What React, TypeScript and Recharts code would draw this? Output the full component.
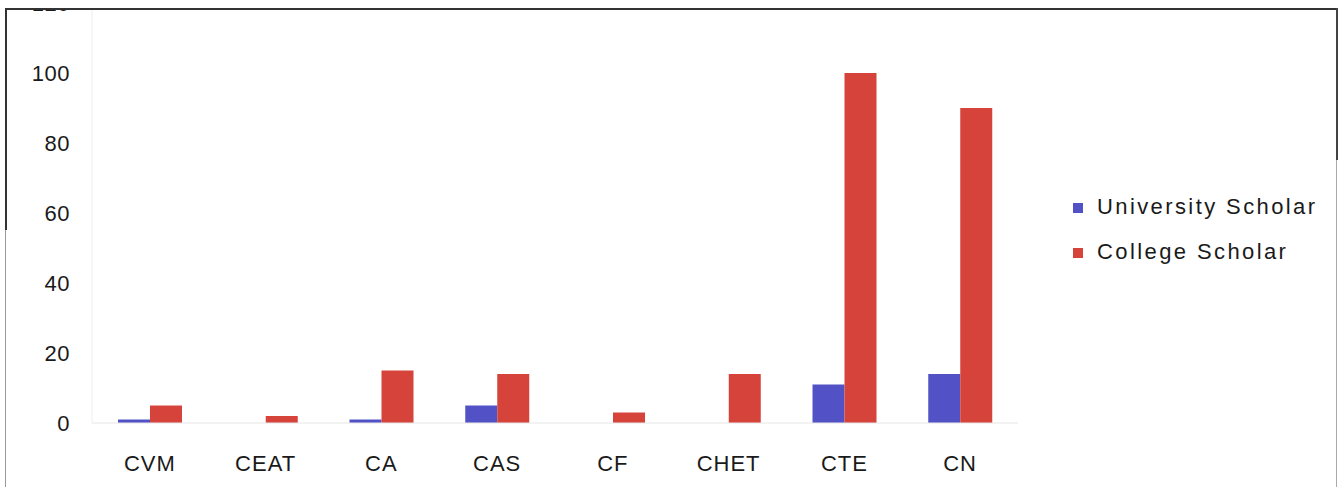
import React from 'react';
import { BarChart, Bar, XAxis, YAxis, Legend } from 'recharts';

const categories = ['CVM', 'CEAT', 'CA', 'CAS', 'CF', 'CHET', 'CTE', 'CN'];
const universityScholar = [1, 0, 1, 5, 0, 0, 11, 14];
const collegeScholar = [5, 2, 15, 14, 3, 14, 100, 90];
const yTicks = [0, 20, 40, 60, 80, 100, 120];
const seriesOrder = ['university', 'college'];

const data = categories.map((name, i) => ({
  name,
  university: universityScholar[i],
  college: collegeScholar[i],
}));

const FONT = '"Liberation Sans", Arial, sans-serif';
const BLUE = '#5252c6';
const RED = '#d6433a';

const line = (style: React.CSSProperties) => (
  <div style={{ position: 'absolute', zIndex: 3, ...style }} />
);

export default function App() {
  return (
    <div
      style={{
        position: 'absolute',
        left: 0,
        top: 0,
        width: 1341,
        height: 487,
        overflow: 'hidden',
        background: '#fff',
        fontFamily: FONT,
      }}
    >
      <BarChart
        width={1341}
        height={487}
        data={data}
        margin={{ top: 3, right: 53, left: 12, bottom: 24 }}
        barGap={0}
        barSize={32}
      >
        <XAxis
          dataKey="name"
          height={40}
          tickSize={0}
          tickMargin={32}
          stroke="#e6e6e6"
          tick={{ fontSize: 22, fill: '#1a1a1a', fontFamily: FONT, letterSpacing: 1 }}
        />
        <YAxis
          width={80}
          domain={[0, 120]}
          ticks={yTicks}
          interval={0}
          tickSize={0}
          tickMargin={22}
          stroke="#eeeeee"
          tick={{ fontSize: 22, fill: '#1a1a1a', fontFamily: FONT, letterSpacing: 0.5 }}
        />
        <Legend
          layout="vertical"
          align="right"
          verticalAlign="top"
          iconType="square"
          iconSize={10}
          itemSorter={(item: any) => seriesOrder.indexOf(item.dataKey)}
          wrapperStyle={{
            top: 184,
            left: 1073,
            width: 270,
            fontSize: 22,
            letterSpacing: 2.4,
            lineHeight: '45px',
            color: '#1a1a1a',
            textAlign: 'left',
          }}
          formatter={(value: string) => (
            <span style={{ color: '#1a1a1a', marginLeft: 10 }}>{value}</span>
          )}
        />
        <Bar
          dataKey="university"
          name="University Scholar"
          fill={BLUE}
          isAnimationActive={false}
        />
        <Bar
          dataKey="college"
          name="College Scholar"
          fill={RED}
          isAnimationActive={false}
        />
      </BarChart>
      {/* scanned frame */}
      {line({ left: 0, top: 0, width: 1341, height: 8, background: '#fff' })}
      {line({ left: 5, top: 8, width: 1333, height: 2, background: '#333' })}
      {line({ left: 5, top: 8, width: 2, height: 222, background: '#333' })}
      {line({ left: 5, top: 230, width: 1, height: 257, background: '#999' })}
      {line({ left: 1336, top: 8, width: 2, height: 152, background: '#444' })}
      {line({ left: 1336, top: 160, width: 1, height: 327, background: '#aaa' })}
    </div>
  );
}
